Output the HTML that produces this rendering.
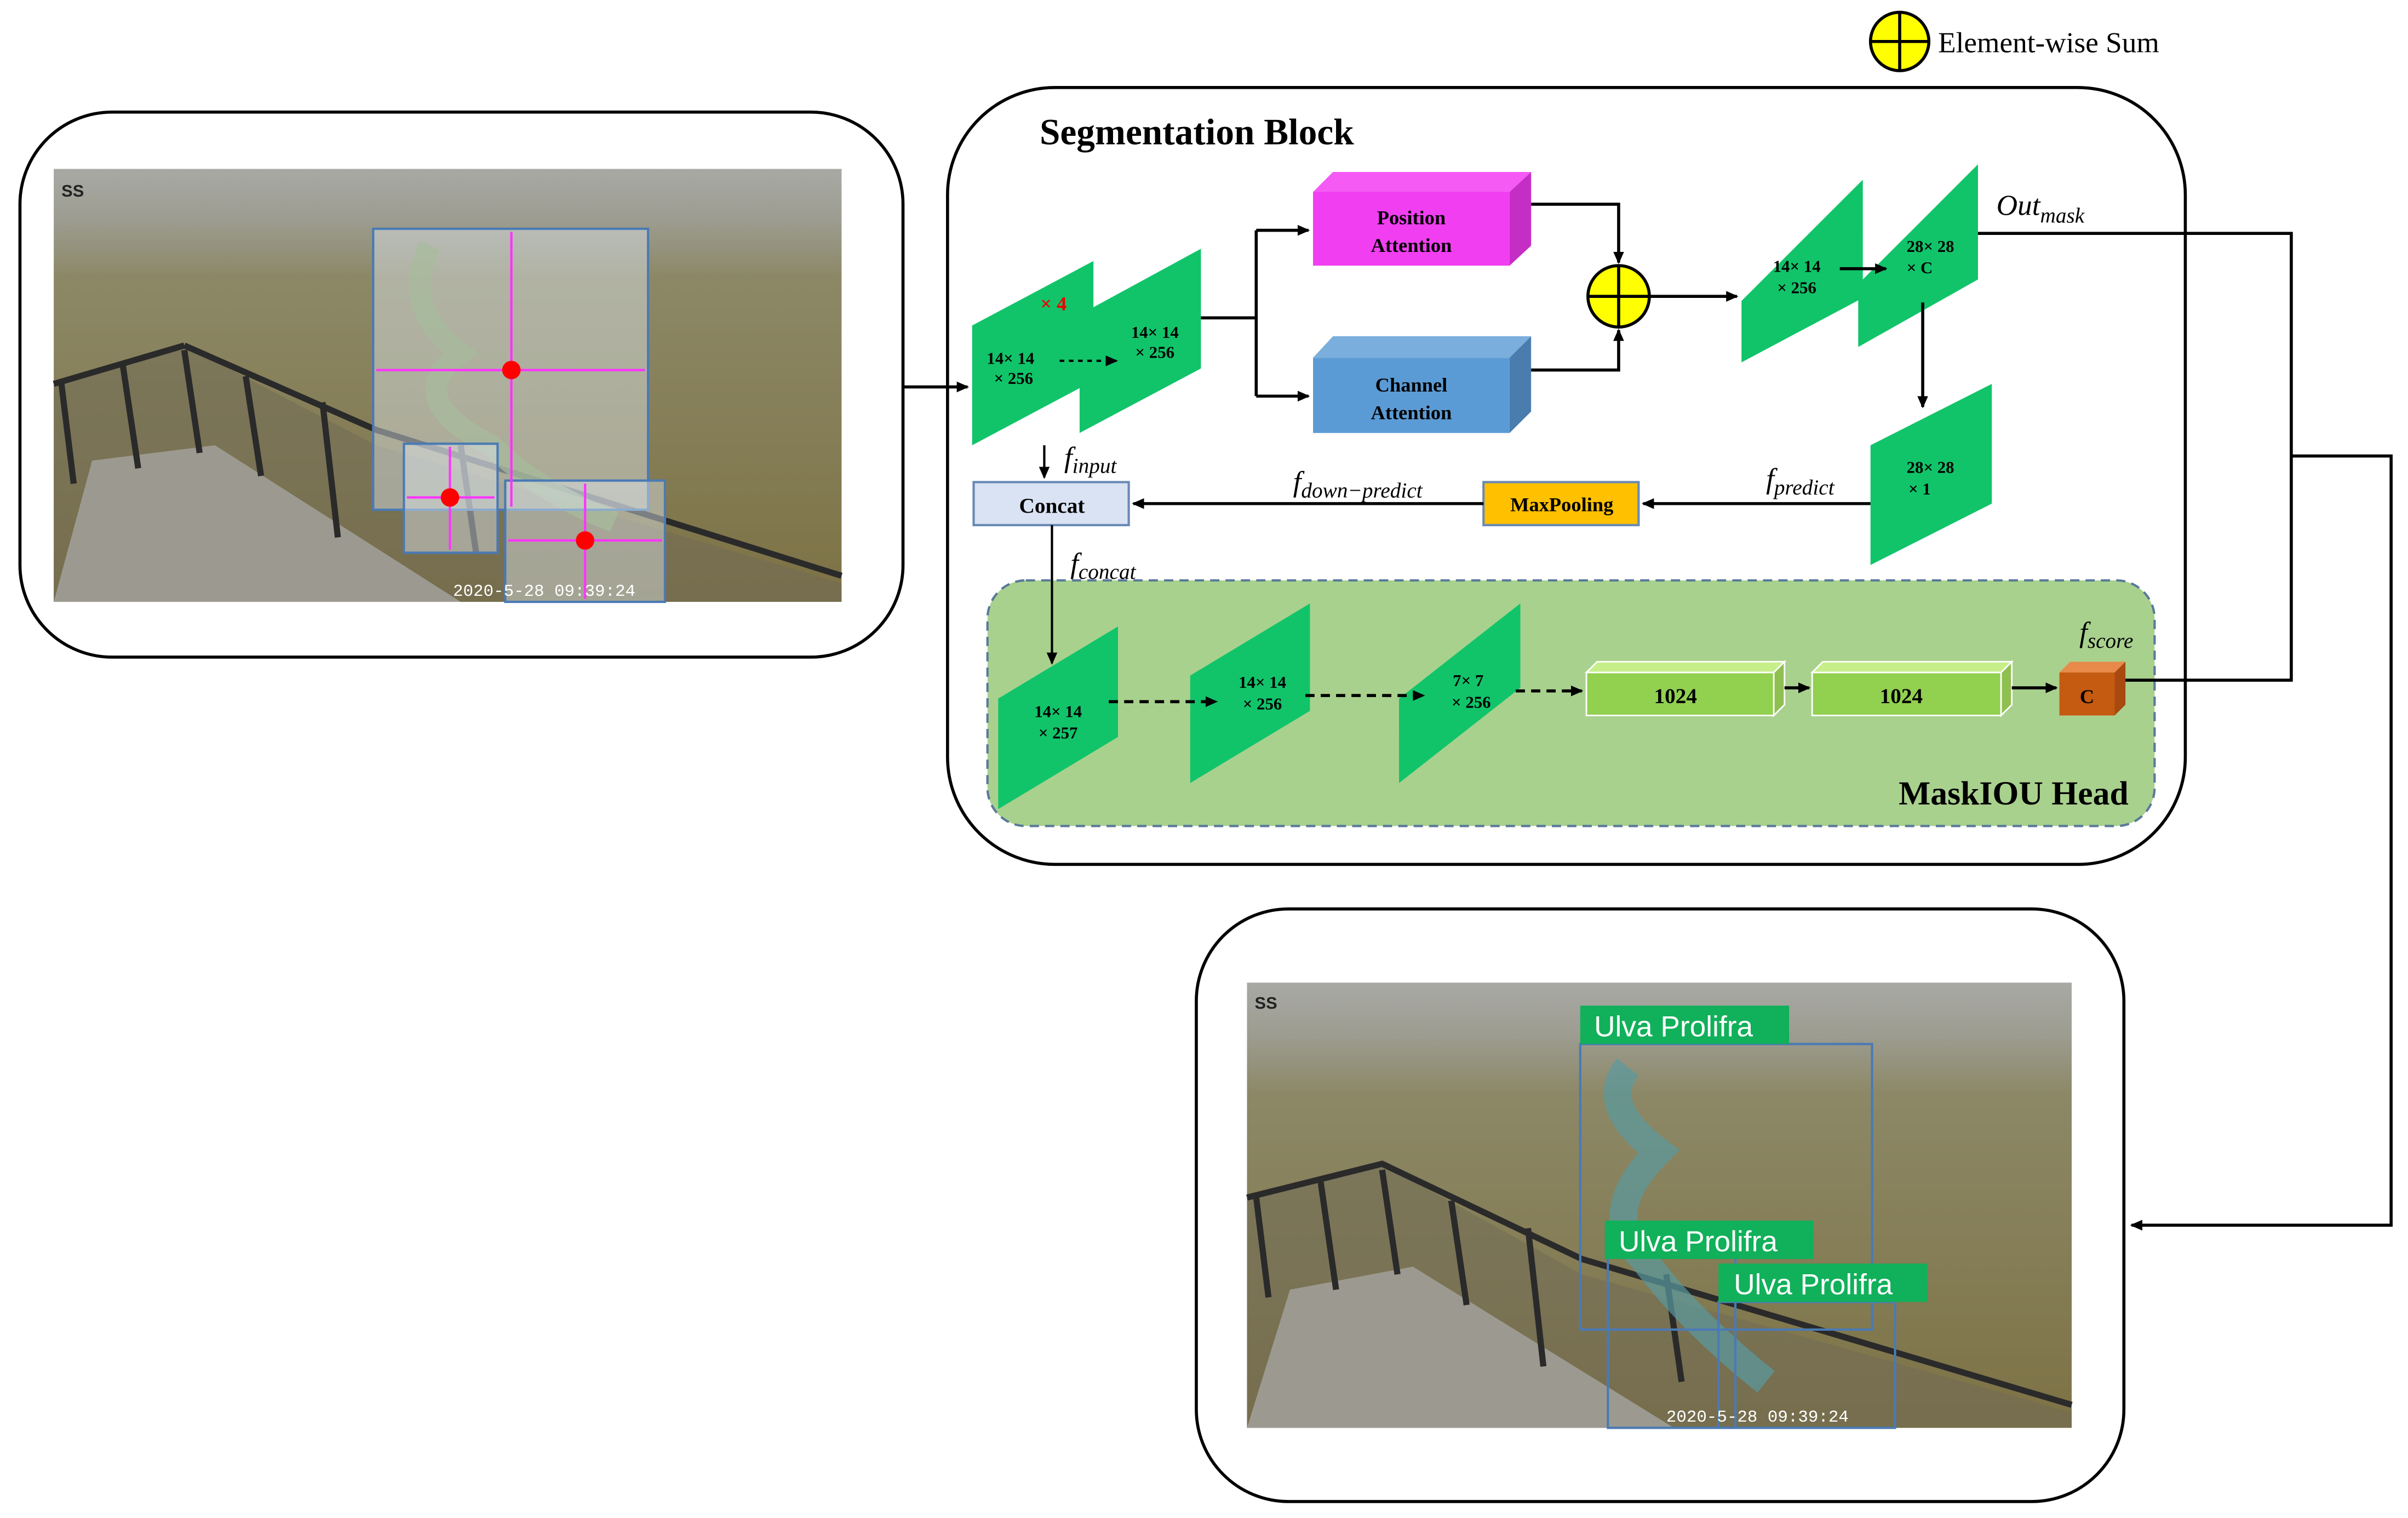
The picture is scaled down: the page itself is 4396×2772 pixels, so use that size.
<!DOCTYPE html>
<html><head><style>html,body{margin:0;padding:0;background:#fff}svg{display:block}</style></head>
<body>
<svg width="4396" height="2772" viewBox="0 0 1568 988.7" xmlns="http://www.w3.org/2000/svg" font-family="'Liberation Serif',serif">
<defs>
<marker id="ar" markerWidth="8" markerHeight="8" refX="7" refY="4" orient="auto" markerUnits="userSpaceOnUse"><path d="M0,0.5 L8,4 L0,7.5z" fill="#000"/></marker>
<linearGradient id="sky" x1="0" y1="0" x2="0" y2="1"><stop offset="0" stop-color="#a8a9a4"/><stop offset="0.12" stop-color="#9c9c90"/><stop offset="0.25" stop-color="#8c8866"/><stop offset="1" stop-color="#7d7245"/></linearGradient>
</defs>
<!-- legend -->
<circle cx="1237" cy="27" r="19" fill="#ffff00" stroke="#000" stroke-width="2"/>
<line x1="1218" y1="27" x2="1256" y2="27" stroke="#000" stroke-width="2"/><line x1="1237" y1="8" x2="1237" y2="46" stroke="#000" stroke-width="2"/>
<text x="1262" y="34" font-size="19">Element-wise  Sum</text>

<!-- left box -->
<rect x="13" y="73" width="575" height="355" rx="60" fill="#fff" stroke="#000" stroke-width="2"/>
<g>
<rect x="35" y="110" width="513" height="282" fill="url(#sky)"/>
<path d="M35,250 L120,225 L245,290 L548,380 L548,392 L35,392z" fill="#6f6a55" opacity="0.5"/>
<path d="M35,392 L60,300 L140,290 L300,392z" fill="#9c9a90"/>
<path d="M35,250 L120,225 M120,225 L245,280 L548,375 M40,250 L48,315 M80,238 L90,305 M120,228 L130,295 M160,245 L170,310 M210,262 L220,350 M300,290 L310,360" stroke="#2a2a2a" stroke-width="4" fill="none"/>
<path d="M280,160 Q260,200 300,230 Q260,260 320,290 Q350,320 400,340" stroke="#7a9a5a" stroke-width="14" fill="none" opacity="0.7"/>
<rect x="243" y="149" width="179" height="183" fill="#dde6ee" fill-opacity="0.45" stroke="#4a7ab5" stroke-width="1.5"/>
<rect x="263" y="289" width="61" height="71" fill="#dde6ee" fill-opacity="0.45" stroke="#4a7ab5" stroke-width="1.5"/>
<rect x="329" y="313" width="104" height="79" fill="#dde6ee" fill-opacity="0.45" stroke="#4a7ab5" stroke-width="1.5"/>
<g stroke="#ff33ff" stroke-width="1.5">
<line x1="245" y1="241" x2="420" y2="241"/><line x1="333" y1="151" x2="333" y2="330"/>
<line x1="265" y1="324" x2="322" y2="324"/><line x1="293" y1="291" x2="293" y2="358"/>
<line x1="331" y1="352" x2="431" y2="352"/><line x1="381" y1="315" x2="381" y2="390"/>
</g>
<circle cx="333" cy="241" r="6" fill="#f00"/><circle cx="293" cy="324" r="6" fill="#f00"/><circle cx="381" cy="352" r="6" fill="#f00"/>
<text x="40" y="128" font-size="11" fill="#222" font-family="'Liberation Sans',sans-serif" font-weight="bold">SS</text>
<text x="295" y="388" font-size="11" fill="#fff" font-family="'Liberation Mono',monospace">2020-5-28 09:39:24</text>
</g>

<!-- segmentation block -->
<rect x="617" y="57" width="806" height="506" rx="70" fill="#fff" stroke="#000" stroke-width="2"/>
<text x="677" y="94" font-size="24" font-weight="bold">Segmentation  Block</text>

<!-- mask head -->
<rect x="643" y="378" width="760" height="160" rx="25" fill="#a9d18e" stroke="#5a7a9a" stroke-width="1.5" stroke-dasharray="6,4"/>
<text x="1386" y="524" font-size="22" font-weight="bold" text-anchor="end">MaskIOU Head</text>

<g fill="#11c46a">
<polygon points="633,212 712,170 712,248 633,290"/>
<polygon points="703,205 782,162 782,240 703,282"/>
<polygon points="1134,196 1213,117 1213,194 1134,236"/>
<polygon points="1210,185 1288,107 1288,182 1210,226"/>
<polygon points="1218,290 1297,250 1297,328 1218,368"/>
<polygon points="650,455 728,408 728,480 650,527"/>
<polygon points="775,440 853,393 853,463 775,510"/>
<polygon points="911,455 990,393 990,448 911,510"/>
</g>
<g font-size="11" font-weight="bold" text-anchor="middle">
<text x="658" y="237">14× 14</text><text x="660" y="250">× 256</text>
<text x="752" y="220">14× 14</text><text x="752" y="233">× 256</text>
<text x="686" y="202" fill="#e00" font-size="13">× 4</text>
<text x="1170" y="177">14× 14</text><text x="1170" y="191">× 256</text>
<text x="1257" y="164">28× 28</text><text x="1250" y="178">× C</text>
<text x="1257" y="308">28× 28</text><text x="1250" y="322">× 1</text>
<text x="689" y="467">14× 14</text><text x="689" y="481">× 257</text>
<text x="822" y="448">14× 14</text><text x="822" y="462">× 256</text>
<text x="956" y="447">7× 7</text><text x="958" y="461">× 256</text>
</g>

<!-- attention boxes -->
<polygon points="855,125 868,112 997,112 983,125" fill="#f55af5"/>
<polygon points="983,125 997,112 997,160 983,173" fill="#c52ec5"/>
<rect x="855" y="125" width="128" height="48" fill="#f13ef1"/>
<text x="919" y="146" font-size="13" font-weight="bold" text-anchor="middle">Position</text>
<text x="919" y="164" font-size="13" font-weight="bold" text-anchor="middle">Attention</text>
<polygon points="855,233 868,219 997,219 983,233" fill="#7aaedc"/>
<polygon points="983,233 997,219 997,268 983,282" fill="#4a7dae"/>
<rect x="855" y="233" width="128" height="49" fill="#5b9bd5"/>
<text x="919" y="255" font-size="13" font-weight="bold" text-anchor="middle">Channel</text>
<text x="919" y="273" font-size="13" font-weight="bold" text-anchor="middle">Attention</text>

<circle cx="1054" cy="193" r="20" fill="#ffff00" stroke="#000" stroke-width="2"/>
<line x1="1034" y1="193" x2="1074" y2="193" stroke="#000" stroke-width="2"/><line x1="1054" y1="173" x2="1054" y2="213" stroke="#000" stroke-width="2"/>

<rect x="634" y="314" width="101" height="28" fill="#dae3f3" stroke="#6a8ab5" stroke-width="1.5"/>
<text x="685" y="334" font-size="14" font-weight="bold" text-anchor="middle">Concat</text>
<rect x="966" y="314" width="101" height="28" fill="#ffc000" stroke="#6a8ab5" stroke-width="1.5"/>
<text x="1017" y="333" font-size="13" font-weight="bold" text-anchor="middle">MaxPooling</text>

<!-- 1024 boxes -->
<g>
<polygon points="1033,438 1040,431 1162,431 1155,438" fill="#c6ef8a" stroke="#fff"/>
<polygon points="1155,438 1162,431 1162,459 1155,466" fill="#8fbf50" stroke="#fff"/>
<rect x="1033" y="438" width="122" height="28" fill="#92d050" stroke="#fff"/>
<text x="1091" y="458" font-size="14" font-weight="bold" text-anchor="middle">1024</text>
<polygon points="1180,438 1187,431 1310,431 1303,438" fill="#c6ef8a" stroke="#fff"/>
<polygon points="1303,438 1310,431 1310,459 1303,466" fill="#8fbf50" stroke="#fff"/>
<rect x="1180" y="438" width="123" height="28" fill="#92d050" stroke="#fff"/>
<text x="1238" y="458" font-size="14" font-weight="bold" text-anchor="middle">1024</text>
<polygon points="1341,438 1348,431 1384,431 1377,438" fill="#e88a4a"/>
<polygon points="1377,438 1384,431 1384,459 1377,466" fill="#a84a10"/>
<rect x="1341" y="438" width="36" height="28" fill="#c55a11"/>
<text x="1359" y="458" font-size="13" font-weight="bold" text-anchor="middle">C</text>
</g>

<!-- connectors -->
<g stroke="#000" stroke-width="2" fill="none">
<line x1="588" y1="252" x2="630" y2="252" marker-end="url(#ar)"/>
<path d="M782,207 L818,207 M818,150 L818,258 M818,150 L852,150" marker-end="url(#ar)"/>
<line x1="818" y1="258" x2="852" y2="258" marker-end="url(#ar)"/>
<path d="M997,133 L1054,133 L1054,171" marker-end="url(#ar)"/>
<path d="M997,241 L1054,241 L1054,215" marker-end="url(#ar)"/>
<line x1="1074" y1="193" x2="1131" y2="193" marker-end="url(#ar)"/>
<line x1="1198" y1="175" x2="1228" y2="175" marker-end="url(#ar)"/>
<line x1="1252" y1="197" x2="1252" y2="265" marker-end="url(#ar)"/>
<line x1="1218" y1="328" x2="1070" y2="328" marker-end="url(#ar)"/>
<line x1="966" y1="328" x2="738" y2="328" marker-end="url(#ar)"/>
<line x1="680" y1="290" x2="680" y2="311" stroke-width="1.5" marker-end="url(#ar)"/>
<line x1="685" y1="342" x2="685" y2="432" stroke-width="1.5" marker-end="url(#ar)"/>
<line x1="690" y1="235" x2="727" y2="235" stroke-dasharray="3,3" stroke-width="1.5" marker-end="url(#ar)"/>
<line x1="722" y1="457" x2="792" y2="457" stroke-dasharray="6,4" marker-end="url(#ar)"/>
<line x1="850" y1="453" x2="927" y2="453" stroke-dasharray="6,4" marker-end="url(#ar)"/>
<line x1="987" y1="450" x2="1030" y2="450" stroke-dasharray="6,4" marker-end="url(#ar)"/>
<line x1="1162" y1="448" x2="1178" y2="448" marker-end="url(#ar)"/>
<line x1="1310" y1="448" x2="1339" y2="448" marker-end="url(#ar)"/>
<path d="M1288,152 L1492,152 L1492,443 L1384,443"/>
<path d="M1492,297 L1557,297 L1557,798 L1388,798" marker-end="url(#ar)"/>
</g>
<g font-size="19" font-style="italic">
<text x="1300" y="140">Out<tspan font-size="14" dy="5">mask</tspan></text>
<text x="693" y="304">f<tspan font-size="14" dy="4">input</tspan></text>
<text x="842" y="320">f<tspan font-size="14" dy="4">down−predict</tspan></text>
<text x="1150" y="318">f<tspan font-size="14" dy="4">predict</tspan></text>
<text x="697" y="373">f<tspan font-size="14" dy="4">concat</tspan></text>
<text x="1354" y="418">f<tspan font-size="14" dy="4">score</tspan></text>
</g>

<!-- bottom right box -->
<rect x="779" y="592" width="604" height="386" rx="60" fill="#fff" stroke="#000" stroke-width="2"/>
<g>
<rect x="812" y="640" width="537" height="290" fill="url(#sky)"/>
<path d="M812,780 L900,758 L1030,830 L1349,920 L1349,930 L812,930z" fill="#6f6a55" opacity="0.5"/>
<path d="M812,930 L840,840 L920,825 L1090,930z" fill="#9c9a90"/>
<path d="M812,780 L900,758 L1030,820 L1349,915 M818,780 L826,845 M860,770 L870,840 M900,762 L910,830 M945,782 L955,850 M995,800 L1005,890 M1085,830 L1095,900" stroke="#2a2a2a" stroke-width="4" fill="none"/>
<path d="M1060,695 Q1040,720 1080,750 Q1040,790 1070,820 Q1100,860 1150,900" stroke="#5a9aa0" stroke-width="18" fill="none" opacity="0.7"/>
<rect x="1029" y="680" width="190" height="186" fill="none" stroke="#4a7ab5" stroke-width="1.5"/>
<rect x="1047" y="818" width="83" height="112" fill="none" stroke="#4a7ab5" stroke-width="1.5"/>
<rect x="1119" y="848" width="115" height="82" fill="none" stroke="#4a7ab5" stroke-width="1.5"/>
<g font-family="'Liberation Sans',sans-serif" font-size="19" fill="#fff">
<rect x="1029" y="655" width="136" height="25" fill="#11b05a"/><text x="1038" y="675">Ulva Prolifra</text>
<rect x="1045" y="795" width="136" height="25" fill="#11b05a"/><text x="1054" y="815">Ulva Prolifra</text>
<rect x="1119" y="823" width="136" height="25" fill="#11b05a"/><text x="1129" y="843">Ulva Prolifra</text>
</g>
<text x="817" y="657" font-size="11" fill="#222" font-family="'Liberation Sans',sans-serif" font-weight="bold">SS</text>
<text x="1085" y="926" font-size="11" fill="#fff" font-family="'Liberation Mono',monospace">2020-5-28 09:39:24</text>
</g>
</svg>
</body></html>
